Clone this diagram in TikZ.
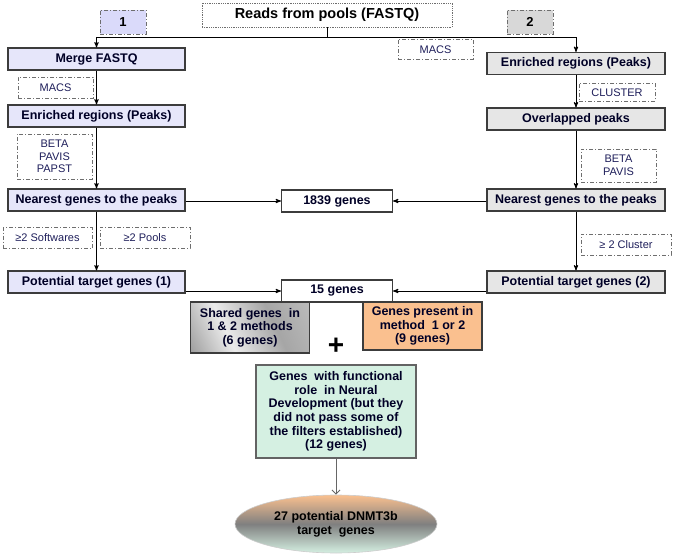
\documentclass[tikz,border=0pt]{standalone}
\usepackage{fontspec}
\setmainfont{Liberation Sans}
\usepackage{tikz}
\usetikzlibrary{arrows,arrows.meta,positioning,shapes.geometric}

\definecolor{lavbox}{RGB}{230,230,250}
\definecolor{greybox}{RGB}{230,230,230}
\definecolor{edgegrey}{RGB}{60,60,60}
\definecolor{toolgrey}{RGB}{110,110,110}
\definecolor{navytext}{RGB}{30,30,90}
\definecolor{peach}{RGB}{250,192,143}
\definecolor{mint}{RGB}{213,240,226}
\pgfdeclareverticalshading{metal}{100bp}{color(0bp)=(black!62);color(38bp)=(black!8);
color(62bp)=(black!35);color(100bp)=(black!20)}

\begin{document}
\begin{tikzpicture}[x=1pt,y=1pt,->,>=stealth',line width=0.9pt,on grid,
mainbox/.style={draw=edgegrey,line width=1.1pt,minimum width=177pt,minimum height=22pt,
inner sep=1pt,align=center,text=black!85!blue,
font=\fontsize{12.5}{13.6}\selectfont\bfseries},
leftbox/.style={mainbox,fill=lavbox},
rightbox/.style={mainbox,fill=greybox,minimum width=178pt},
countbox/.style={mainbox,fill=white,minimum width=111pt},
toolbox/.style={draw=toolgrey,line width=0.8pt,dash pattern=on 4pt off 2pt on 1pt off 2pt,
minimum width=75pt,minimum height=21pt,inner sep=1pt,align=center,text=navytext,
font=\fontsize{11}{12.7}\selectfont},
methodbox/.style={toolbox,minimum width=46pt,minimum height=24pt,text=black,
font=\fontsize{13}{14}\selectfont\bfseries}]
\useasboundingbox (0,0) rectangle (675,-559);

% start
\node[draw=toolgrey,densely dotted,line width=0.8pt,minimum width=250pt,minimum height=24pt,
inner sep=1pt,font=\fontsize{14.5}{16}\selectfont\bfseries] (reads) at (327,-15) {Reads from pools (FASTQ)};
\node[methodbox,fill=lavbox!95!blue] (one) at (123,-22) {1};
\node[methodbox,fill=greybox!94!black] (two) at (530,-22) {2};
\coordinate (split) at (327,-37);

% method 1
\node[leftbox] (merge) at (96.5,-59) {Merge FASTQ};
\node[leftbox] (enrL) [below=57pt of merge] {Enriched regions (Peaks)};
\node[leftbox] (nearL) [below=84pt of enrL] {Nearest genes to the peaks};
\node[leftbox] (potL) [below=82pt of nearL] {Potential target genes (1)};
\node[toolbox] (macsL) [below left=29pt and 41pt of merge] {MACS};
\node[toolbox,minimum height=45pt] (toolsL) [below left=40.5pt and 42pt of enrL] {BETA\\PAVIS\\PAPST};
\node[toolbox,minimum width=89pt] (softw) [below left=38pt and 49pt of nearL] {≥2 Softwares};
\node[toolbox,minimum width=90pt] (pools) [below right=37.5pt and 48.5pt of nearL] {≥2 Pools};

% method 2
\node[rightbox] (enrR) at (576,-63.5) {Enriched regions (Peaks)};
\node[rightbox] (overl) [below=55.5pt of enrR] {Overlapped peaks};
\node[rightbox] (nearR) [below=81pt of overl] {Nearest genes to the peaks};
\node[rightbox] (potR) [below=82pt of nearR] {Potential target genes (2)};
\node[toolbox,minimum height=20pt] (macsR) at (435.5,-49.5) {MACS};
\node[toolbox,minimum width=76pt,minimum height=18pt] (cluster) [below right=29pt and 41pt of enrR] {CLUSTER};
\node[toolbox,minimum height=33pt] (toolsR) [below right=46.5pt and 42.5pt of overl] {BETA\\PAVIS};
\node[toolbox,minimum width=90pt] (clust2) [below right=44.5pt and 50pt of nearR] {≥ 2 Cluster};

% results
\node[countbox] (g1839) at (337,-201) {1839 genes};
\node[countbox] (g15) at (337,-291) {15 genes};
\node[mainbox,minimum width=119pt,minimum height=51pt,shading=metal,shading angle=-65] (shared) at (250,-327.5)
{Shared genes~ in\\1 \& 2 methods\\(6 genes)};
\node[mainbox,fill=peach,minimum width=119pt,minimum height=48pt] (present) at (422.5,-326)
{Genes present in\\method~ 1 or 2\\(9 genes)};
\node[font=\fontsize{28}{28}\selectfont\bfseries] (plus) at (336,-346) {+};
\node[mainbox,fill=mint,draw=edgegrey!80,minimum width=160pt,minimum height=93pt] (neural) at (336,-411.5)
{Genes~ with functional\\role~ in Neural\\Development (but they\\did not pass some of\\the filters established)\\(12 genes)};
\node[ellipse,draw=gray!40,line width=0.6pt,minimum width=202pt,minimum height=58pt,inner sep=0pt,
top color=peach,bottom color=mint,middle color=black!50,align=center,
font=\fontsize{12.5}{14.3}\selectfont\bfseries] (final) at (336,-524)
{27 potential DNMT3b\\target~ genes};

% connectors
\draw[-] (reads) -- (split);
\draw (split) -| (merge);
\draw (split) -| (enrR);
\draw (merge) -- (enrL);
\draw (enrL) -- (nearL);
\draw (nearL) -- (potL);
\draw (enrR) -- (overl);
\draw (overl) -- (nearR);
\draw (nearR) -- (potR);
\draw (g1839.west -| nearL.east) -- (g1839.west);
\draw (g1839.east -| nearR.west) -- (g1839.east);
\draw (g15.west -| potL.east) -- (g15.west);
\draw (g15.east -| potR.west) -- (g15.east);
\draw[-{Straight Barb[length=4pt,width=8pt]},draw=black!60,line width=1pt] (neural) -- (final);
\end{tikzpicture}
\end{document}
